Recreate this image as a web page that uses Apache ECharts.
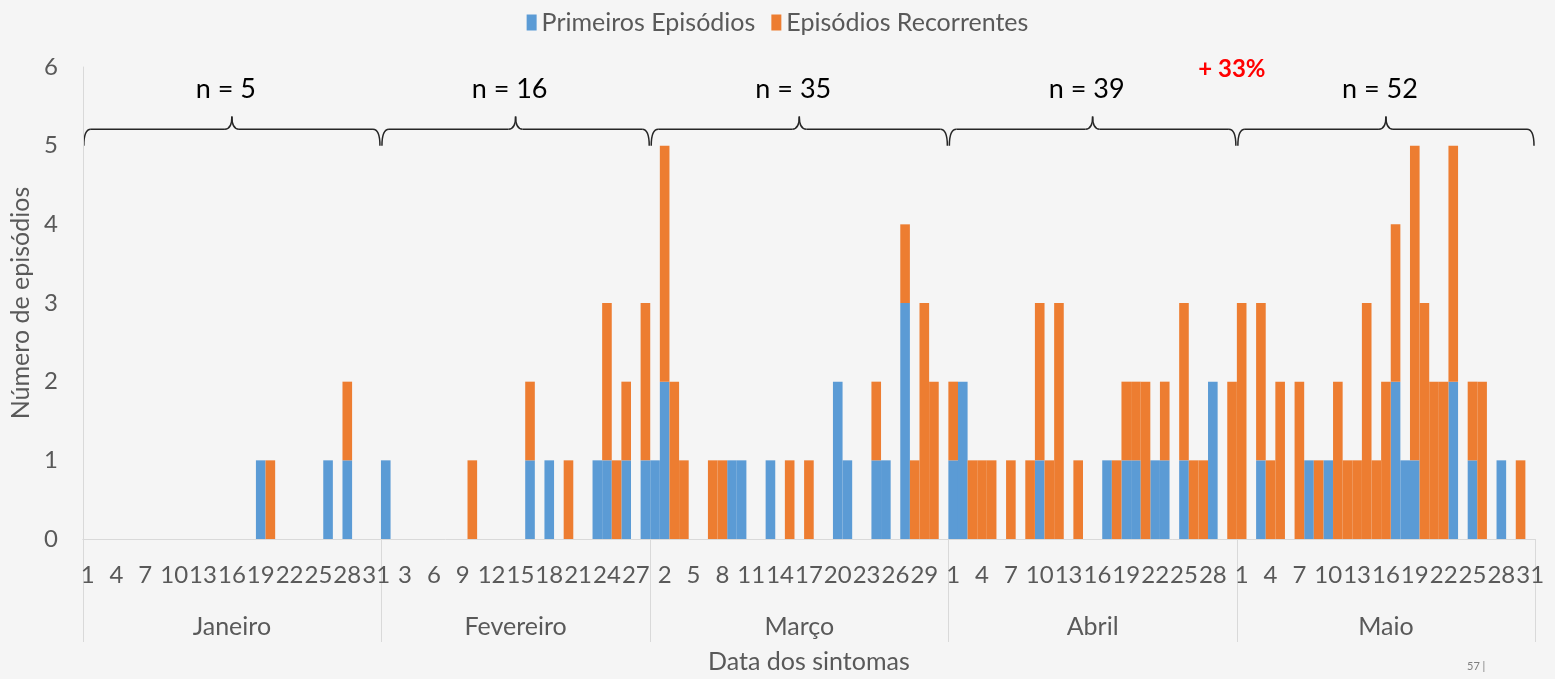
<!DOCTYPE html>
<html>
<head>
<meta charset="utf-8">
<script src="https://cdn.jsdelivr.net/npm/echarts@6/dist/echarts.min.js"></script>
<style>
  html, body { margin: 0; padding: 0; background: #f5f5f5; }
  #chart { width: 1555px; height: 679px; }
</style>
</head>
<body>
<div id="chart"></div>
<script>
// Months shown on the lower axis level and their lengths
const monthNames = ['Janeiro', 'Fevereiro', 'Março', 'Abril', 'Maio'];
const monthDays = [31, 28, 31, 30, 31];
// Episode totals per month, written above the braces
const monthTotals = ['n = 5', 'n = 16', 'n = 35', 'n = 39', 'n = 52'];
const growthLabel = '+ 33%';
const seriesNames = ['Primeiros Episódios', 'Episódios Recorrentes'];

// Daily counts, one entry per day of each month
const primeirosJan = [0,0,0,0,0,0,0,0,0,0, 0,0,0,0,0,0,0,0,1,0, 0,0,0,0,0,1,0,1,0,0, 0];
const recorrentesJan = [0,0,0,0,0,0,0,0,0,0, 0,0,0,0,0,0,0,0,0,1, 0,0,0,0,0,0,0,1,0,0, 0];

const primeirosFev = [1,0,0,0,0,0,0,0,0,0, 0,0,0,0,0,1,0,1,0,0, 0,0,1,1,0,1,0,1];
const recorrentesFev = [0,0,0,0,0,0,0,0,0,1, 0,0,0,0,0,1,0,0,0,1, 0,0,0,2,1,1,0,2];

const primeirosMar = [1,2,0,0,0,0,0,0,1,1, 0,0,1,0,0,0,0,0,0,2, 1,0,0,1,1,0,3,0,0,0, 0];
const recorrentesMar = [0,3,2,1,0,0,1,1,0,0, 0,0,0,0,1,0,1,0,0,0, 0,0,0,1,0,0,1,1,3,2, 0];

const primeirosAbr = [1,2,0,0,0,0,0,0,0,1, 0,0,0,0,0,0,1,0,1,1, 0,1,1,0,1,0,0,2,0,0];
const recorrentesAbr = [1,0,1,1,1,0,1,0,1,2, 1,3,0,1,0,0,0,1,1,1, 2,0,1,0,2,1,1,0,0,2];

const primeirosMai = [0,0,1,0,0,0,0,1,0,1, 0,0,0,0,0,0,2,1,1,0, 0,0,2,0,1,0,0,1,0,0, 0];
const recorrentesMai = [3,0,2,1,2,0,2,0,1,0, 2,1,1,3,1,2,2,0,4,3, 2,2,3,0,1,2,0,0,0,1, 0];

const primeiros = [].concat(primeirosJan, primeirosFev, primeirosMar, primeirosAbr, primeirosMai);
const recorrentes = [].concat(recorrentesJan, recorrentesFev, recorrentesMar, recorrentesAbr, recorrentesMai);

// One category per day: "day/month"
const days = [];
monthDays.forEach((n, m) => { for (let d = 1; d <= n; d++) days.push(d + '/' + (m + 1)); });

// Month boundaries and centres on a 0..totalDays scale
const monthEdges = [0];
monthDays.forEach(n => monthEdges.push(monthEdges[monthEdges.length - 1] + n));
const monthCenters = monthNames.map((_, i) => (monthEdges[i] + monthEdges[i + 1]) / 2);
const totalDays = monthEdges[monthEdges.length - 1];

const FONT = 'Lato';
const GREY = '#595959';

const chart = echarts.init(document.getElementById('chart'), null, { renderer: 'canvas' });

chart.setOption({
  backgroundColor: '#f5f5f5',
  animation: false,
  textStyle: { fontFamily: FONT },
  legend: {
    top: 5,
    left: 'center',
    icon: 'rect',
    itemWidth: 10,
    itemHeight: 16,
    itemGap: 16,
    textStyle: { fontFamily: FONT, fontSize: 25, color: GREY },
    data: seriesNames
  },
  grid: { left: 82, right: 20, top: 67, bottom: 137, containLabel: false },
  xAxis: [
    {
      type: 'category',
      data: days,
      boundaryGap: true,
      axisLine: { show: true, lineStyle: { color: '#d9d9d9', width: 1 } },
      axisTick: { show: false },
      splitLine: { show: false },
      axisLabel: {
        interval: 2,
        margin: 24,
        color: GREY,
        fontFamily: FONT,
        fontSize: 24,
        formatter: v => v.split('/')[0]
      }
    },
    {
      type: 'value',
      position: 'bottom',
      min: 0,
      max: totalDays,
      axisLine: { show: false },
      splitLine: { show: false },
      axisTick: {
        show: true,
        customValues: monthEdges,
        length: 103,
        lineStyle: { color: '#d9d9d9', width: 1 }
      },
      axisLabel: {
        customValues: monthCenters,
        margin: 75,
        color: GREY,
        fontFamily: FONT,
        fontSize: 25,
        formatter: v => monthNames[monthCenters.indexOf(v)]
      },
      name: 'Data dos sintomas',
      nameLocation: 'middle',
      nameGap: 110,
      nameTextStyle: { color: GREY, fontFamily: FONT, fontSize: 25 }
    }
  ],
  yAxis: {
    type: 'value',
    min: 0,
    max: 6,
    interval: 1,
    axisLine: { show: true, lineStyle: { color: '#d9d9d9', width: 1 } },
    axisTick: { show: false },
    splitLine: { show: false },
    axisLabel: { margin: 25, color: GREY, fontFamily: FONT, fontSize: 24 },
    name: 'Número de episódios',
    nameLocation: 'middle',
    nameRotate: 90,
    nameGap: 45,
    nameTextStyle: { color: GREY, fontFamily: FONT, fontSize: 25 }
  },
  series: [
    {
      name: seriesNames[0],
      type: 'bar',
      stack: 'total',
      xAxisIndex: 0,
      barCategoryGap: '0%',
      itemStyle: { color: '#5b9bd5' },
      data: primeiros
    },
    {
      name: seriesNames[1],
      type: 'bar',
      stack: 'total',
      xAxisIndex: 0,
      barCategoryGap: '0%',
      itemStyle: { color: '#ed7d31' },
      data: recorrentes
    }
  ]
});

// Braces over each month with its total, plus the growth note
function drawAnnotations() {
  const px = v => chart.convertToPixel({ xAxisIndex: 1 }, v);
  const py = v => chart.convertToPixel({ yAxisIndex: 0 }, v);
  const yEnd = py(5.0), yLine = py(5.21), yTip = py(5.37), yText = py(5.72);
  const r = 7;
  const stroke = { stroke: '#262626', lineWidth: 1.5, fill: null };
  const curve = (x1, y1, cx, cy, x2, y2) => ({
    type: 'bezierCurve', silent: true,
    shape: { x1, y1, cpx1: cx, cpy1: cy, x2, y2 }, style: stroke
  });
  const seg = (x1, y1, x2, y2) => ({
    type: 'line', silent: true, shape: { x1, y1, x2, y2 }, style: stroke
  });
  const els = [];
  monthNames.forEach((_, i) => {
    const x0 = px(monthEdges[i]) + 1;
    const x1 = px(monthEdges[i + 1]) - 1;
    const xc = px(monthCenters[i]);
    els.push(curve(x0, yEnd, x0, yLine, x0 + r, yLine));
    els.push(seg(x0 + r, yLine, xc - r, yLine));
    els.push(curve(xc - r, yLine, xc, yLine, xc, yTip));
    els.push(curve(xc, yTip, xc, yLine, xc + r, yLine));
    els.push(seg(xc + r, yLine, x1 - r, yLine));
    els.push(curve(x1 - r, yLine, x1, yLine, x1, yEnd));
    els.push({
      type: 'text',
      silent: true,
      x: xc - 6,
      y: yText,
      style: {
        text: monthTotals[i],
        fontFamily: FONT,
        fontSize: 27,
        fill: '#000',
        align: 'center',
        verticalAlign: 'middle'
      }
    });
  });
  els.push({
    type: 'text',
    silent: true,
    x: px(monthEdges[4]) - 5,
    y: py(5.97),
    style: {
      text: growthLabel,
      fontFamily: FONT,
      fontSize: 24,
      fontWeight: 'bold',
      fill: '#ff0000',
      align: 'center',
      verticalAlign: 'middle'
    }
  });
  els.push({
    type: 'text',
    silent: true,
    x: 1467,
    y: 666,
    style: {
      text: '57 |',
      fontFamily: FONT,
      fontSize: 11,
      fill: '#7f7f7f',
      verticalAlign: 'middle'
    }
  });
  chart.setOption({ graphic: els });
}
drawAnnotations();
</script>
</body>
</html>
